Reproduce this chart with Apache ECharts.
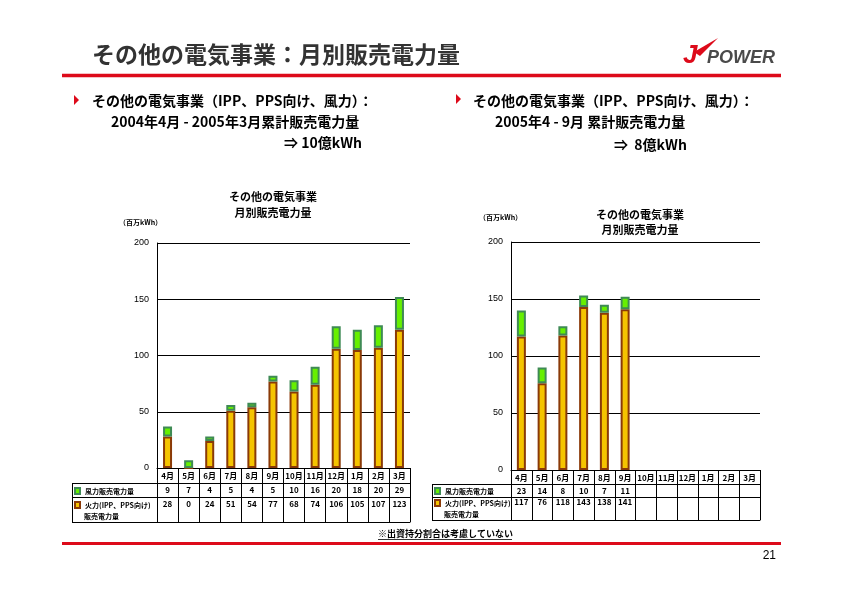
<!DOCTYPE html>
<html>
<head>
<meta charset="utf-8">
<script src="https://cdn.jsdelivr.net/npm/echarts@6/dist/echarts.min.js"></script>
<style>
html,body{margin:0;padding:0;background:#fff;}
#c{width:842px;height:595px;}
</style>
</head>
<body>
<div id="c"></div>
<script>
// ---- data ----
const months = ['4月','5月','6月','7月','8月','9月','10月','11月','12月','1月','2月','3月'];
const windFY04 = [9, 7, 4, 5, 4, 5, 10, 16, 20, 18, 20, 29];
const fireFY04 = [28, 0, 24, 51, 54, 77, 68, 74, 106, 105, 107, 123];
const windFY05 = [23, 14, 8, 10, 7, 11];
const fireFY05 = [117, 76, 118, 143, 138, 141];
const yMin = 0, yMax = 200, yStep = 50;
const windName = '風力販売電力量';
const fireName = '火力(IPP、PPS向け)販売電力量';

const FONT = '"Noto Sans CJK JP", "Noto Sans", sans-serif';
const RED = '#DD0A1A';
const FIRE_FILL = '#F5C400', FIRE_BORDER = '#8A3A08';
const WIND_FILL = '#66F000', WIND_BORDER = '#3F8A55';

const chart = echarts.init(document.getElementById('c'), null, {renderer: 'canvas'});

function tableAxes(gridIndex, wind, fire, rowLines, tableBottom, fireMargin) {
  const base = {
    gridIndex, type: 'category', data: months, position: 'bottom',
    axisLine: {show: true, lineStyle: {color: '#000', width: 1}},
    axisTick: {show: false}, splitLine: {show: false}
  };
  const lbl = {fontSize: 8, fontWeight: 'bold', color: '#000', fontFamily: FONT, interval: 0};
  return [
    Object.assign({}, base, {
      axisTick: {show: true, interval: 0, alignWithLabel: false, length: tableBottom, lineStyle: {color: '#000'}},
      axisLabel: Object.assign({}, lbl, {margin: 4})
    }),
    Object.assign({}, base, {
      offset: rowLines[0],
      axisLabel: Object.assign({}, lbl, {margin: 3, formatter: (v, i) => wind[i] == null ? '' : String(wind[i])})
    }),
    Object.assign({}, base, {
      offset: rowLines[1],
      axisLabel: Object.assign({}, lbl, {margin: fireMargin, formatter: (v, i) => fire[i] == null ? '' : String(fire[i])})
    }),
    Object.assign({}, base, {offset: tableBottom, axisLabel: {show: false}})
  ];
}

function yAx(gridIndex) {
  return {
    gridIndex, type: 'value', min: yMin, max: yMax, interval: yStep,
    axisLine: {show: true, lineStyle: {color: '#000', width: 1}},
    axisTick: {show: false},
    axisLabel: {fontSize: 9, color: '#000', margin: 8, fontFamily: '"Liberation Sans", Arial, sans-serif'},
    splitLine: {show: true, lineStyle: {color: '#000', width: 1}}
  };
}

function barSeries(name, data, xi, yi, fill, border) {
  return {
    name, type: 'bar', stack: 's' + xi, data, xAxisIndex: xi, yAxisIndex: yi,
    barWidth: 9,
    itemStyle: {color: fill, borderColor: border, borderWidth: 2},
    emphasis: {disabled: true}, silent: true, animation: false
  };
}

function legendFor(left, top, gap) {
  return {
    left, top, orient: 'vertical', padding: 0, itemGap: gap,
    itemWidth: 5, itemHeight: 6, icon: 'rect',
    data: [windName, fireName], selectedMode: false,
    formatter: n => n === fireName ? '火力(IPP、PPS向け)' : n,
    textStyle: {fontSize: 7, fontWeight: 'bold', color: '#000', fontFamily: FONT, lineHeight: 10, padding: 0}
  };
}

function txt(x, y, text, font, opts) {
  return {
    type: 'text', x, y, silent: true,
    style: Object.assign({text, font, fill: '#000', textAlign: 'left', textVerticalAlign: 'middle'}, opts || {})
  };
}
function line(x1, y1, x2, y2, stroke, w) {
  return {type: 'line', silent: true, shape: {x1, y1, x2, y2}, style: {stroke, lineWidth: w}};
}

const B14 = 'bold 14px ' + FONT;

const option = {
  animation: false,
  backgroundColor: '#fff',
  grid: [
    {left: 157, right: 842 - 410, top: 243, bottom: 595 - 468, containLabel: false},
    {left: 511, right: 842 - 760, top: 242, bottom: 595 - 470, containLabel: false}
  ],
  xAxis: [
    ...tableAxes(0, windFY04, fireFY04, [15, 29], 54, 3),
    ...tableAxes(1, windFY05, fireFY05, [14, 27], 50, 1)
  ],
  yAxis: [yAx(0), yAx(1)],
  legend: [legendFor(74, 486, 4), legendFor(434, 486, 2)],
  series: [
    barSeries(fireName, fireFY04, 0, 0, FIRE_FILL, FIRE_BORDER),
    barSeries(windName, windFY04, 0, 0, WIND_FILL, WIND_BORDER),
    barSeries(fireName, fireFY05, 4, 1, FIRE_FILL, FIRE_BORDER),
    barSeries(windName, windFY05, 4, 1, WIND_FILL, WIND_BORDER)
  ],
  graphic: [
    // page title
    txt(92, 54, 'その他の電気事業：月別販売電力量', 'bold 23px ' + FONT, {fill: '#333'}),
    line(62, 75.5, 781, 75.5, RED, 3.5),
    // logo
    txt(683, 56, 'J', 'italic bold 26px "Liberation Sans", Arial, sans-serif', {fill: RED}),
    {type: 'polygon', silent: true, shape: {points: [[694, 52], [718, 38], [700, 56]]}, style: {fill: RED}},
    txt(707, 58, 'POWER', 'italic bold 18px "Liberation Sans", Arial, sans-serif', {fill: '#4a4a4a'}),
    // bullets left
    {type: 'polygon', silent: true, shape: {points: [[74, 95], [79, 100], [74, 105]]}, style: {fill: RED}},
    txt(92, 101, 'その他の電気事業（IPP、PPS向け、風力）：', B14),
    txt(111, 122, '2004年4月 - 2005年3月累計販売電力量', B14),
    txt(284, 143, '⇒ 10億kWh', B14),
    // bullets right
    {type: 'polygon', silent: true, shape: {points: [[456, 94], [461, 99], [456, 104]]}, style: {fill: RED}},
    txt(473, 101, 'その他の電気事業（IPP、PPS向け、風力）：', B14),
    txt(495, 122, '2005年4 - 9月 累計販売電力量', B14),
    txt(614, 145, '⇒  8億kWh', B14),
    // chart titles
    txt(273, 197, 'その他の電気事業', 'bold 11px ' + FONT, {textAlign: 'center'}),
    txt(273, 213, '月別販売電力量', 'bold 11px ' + FONT, {textAlign: 'center'}),
    txt(119, 222, '（百万kWh）', 'bold 7px ' + FONT),
    txt(640, 215, 'その他の電気事業', 'bold 11px ' + FONT, {textAlign: 'center'}),
    txt(640, 230, '月別販売電力量', 'bold 11px ' + FONT, {textAlign: 'center'}),
    txt(479, 217, '（百万kWh）', 'bold 7px ' + FONT),
    // left table frame (label column)
    line(72, 483.5, 157, 483.5, '#000', 1),
    line(72, 497.5, 157, 497.5, '#000', 1),
    line(72, 522.5, 157, 522.5, '#000', 1),
    line(72.5, 483, 72.5, 523, '#000', 1),
    txt(84, 516, '販売電力量', 'bold 7px ' + FONT),
    // right table frame
    line(432, 484.5, 511, 484.5, '#000', 1),
    line(432, 497.5, 511, 497.5, '#000', 1),
    line(432, 520.5, 511, 520.5, '#000', 1),
    line(432.5, 484, 432.5, 521, '#000', 1),
    txt(444, 514, '販売電力量', 'bold 7px ' + FONT),
    // footnote
    txt(378, 534, '※出資持分割合は考慮していない', 'bold 9px ' + FONT),
    line(378, 539.5, 512, 539.5, '#000', 0.8),
    line(62, 543.5, 781, 543.5, RED, 3),
    txt(776, 556, '21', '12px "Liberation Sans", Arial, sans-serif', {textAlign: 'right'})
  ]
};
chart.setOption(option);
</script>
</body>
</html>
